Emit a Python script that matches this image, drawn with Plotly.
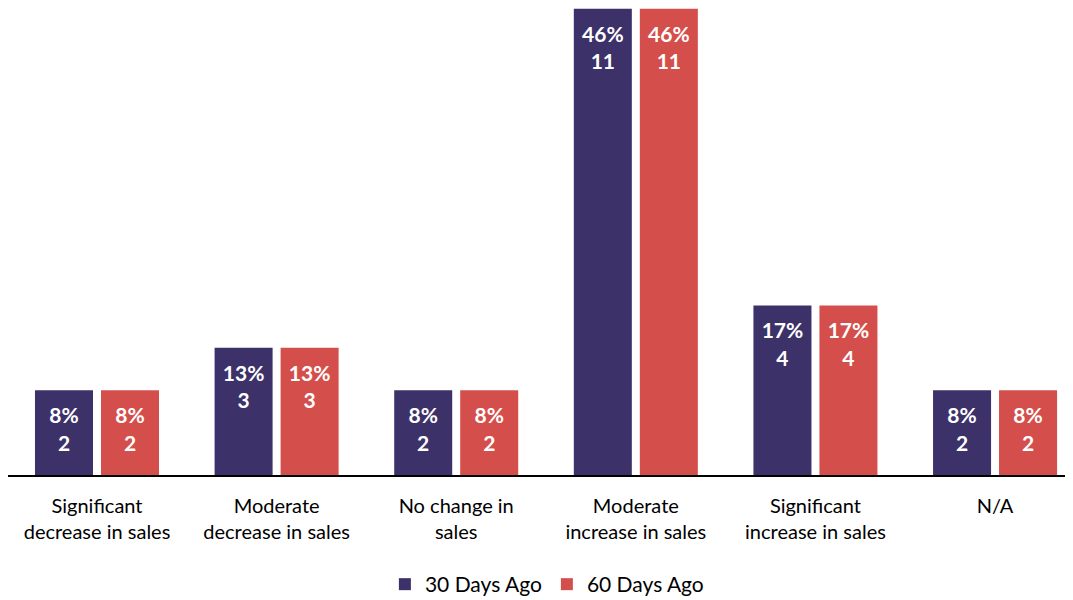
import plotly.graph_objects as go

categories = ["Significant<br>decrease in sales", "Moderate<br>decrease in sales", "No change in<br>sales",
              "Moderate<br>increase in sales", "Significant<br>increase in sales", "N/A"]
counts_30 = [2, 3, 2, 11, 4, 2]
counts_60 = [2, 3, 2, 11, 4, 2]
pct_30 = [8, 13, 8, 46, 17, 8]
pct_60 = [8, 13, 8, 46, 17, 8]
total = 24

FONT = "Lato, 'Open Sans', sans-serif"
BARGAP = 0.265

def add_series(fig, name, counts, pcts, color):
    vals = [c / total * 100 for c in counts]
    fig.add_trace(go.Bar(
        name=name, x=categories, y=vals, offsetgroup=name,
        marker=dict(color=color, line=dict(width=0)),
        hoverinfo="skip",
    ))
    fig.add_trace(go.Scatter(
        x=categories, y=vals, offsetgroup=name, mode="markers+text",
        marker=dict(size=26, opacity=0, color=color),
        text=[f"<b>{p}%<br>{c}</b>" for p, c in zip(pcts, counts)],
        textposition="bottom center",
        textfont=dict(color="white", size=21, family=FONT),
        showlegend=False, hoverinfo="skip", cliponaxis=False,
    ))

fig = go.Figure()
add_series(fig, "30 Days Ago", counts_30, pct_30, "#3c3269")
add_series(fig, "60 Days Ago", counts_60, pct_60, "#d44f4b")

fig.update_layout(
    width=1065, height=600,
    margin=dict(l=0, r=0, t=0, b=133),
    plot_bgcolor="white", paper_bgcolor="white",
    barmode="group", bargap=BARGAP, bargroupgap=0.121,
    scattermode="group", scattergap=BARGAP,
    font=dict(family=FONT, size=20, color="black"),
    showlegend=True,
    legend=dict(orientation="h", x=0.506, xanchor="center", y=-0.2784, yanchor="bottom",
                font=dict(size=21), itemwidth=30, traceorder="normal"),
    xaxis=dict(range=[-0.4955, 5.434], showline=True, linecolor="black", linewidth=2,
               ticks="", tickfont=dict(size=20), showgrid=False, automargin=False,
               ticklabelstandoff=12),
    yaxis=dict(range=[0, 45.9], visible=False, showgrid=False, automargin=False),
)

fig.write_html("out.html")
